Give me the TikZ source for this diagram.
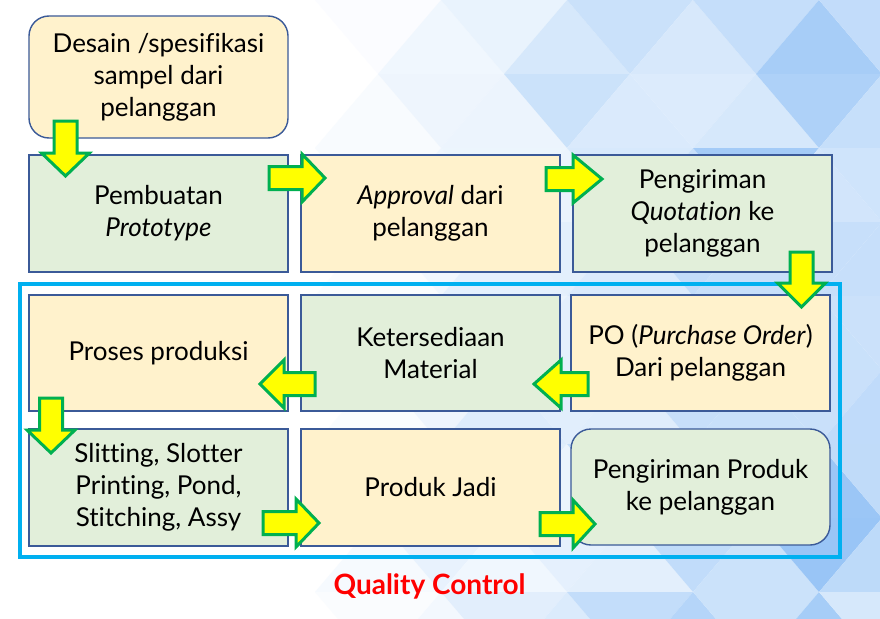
\documentclass[tikz,border=0pt]{standalone}
\usepackage{fontspec}
\setmainfont[Ligatures=NoCommon]{Lato}
\usetikzlibrary{positioning}
\definecolor{grnfill}{HTML}{E2EFDA}
\definecolor{orgfill}{HTML}{FFF2CC}
\definecolor{boxline}{HTML}{3B5A98}
\definecolor{qcblue}{HTML}{00B0F0}
\definecolor{arrgreen}{HTML}{00B050}
\definecolor{arryellow}{HTML}{FFFF00}
\definecolor{bgdark}{RGB}{140,190,245}
\definecolor{qcred}{HTML}{FF0000}
\tikzset{
  procbox/.style={draw=boxline, line width=1.4pt, minimum width=259pt, inner sep=2pt, align=center,
    font=\fontsize{26}{32}\selectfont},
  grnbox/.style={procbox, fill=grnfill},
  orgbox/.style={procbox, fill=orgfill},
  blockarr/.style={fill=arryellow, draw=arrgreen, line width=3pt, line join=miter},
  qcframe/.style={draw=qcblue, line width=4.5pt, minimum width=820pt, minimum height=273pt, inner sep=0pt}
}
\newcommand\harr[4]{% tail x, head base x, tip x, centre y
  \filldraw[blockarr] ({#1},{#4-11.5}) -- ({#2},{#4-11.5}) -- ({#2},{#4-24}) -- ({#3},{#4})
    -- ({#2},{#4+24}) -- ({#2},{#4+11.5}) -- ({#1},{#4+11.5}) -- cycle;}
\newcommand\varr[4]{% tail y, head base y, tip y, centre x
  \filldraw[blockarr] ({#4-11.5},{#1}) -- ({#4-11.5},{#2}) -- ({#4-24},{#2}) -- ({#4},{#3})
    -- ({#4+24},{#2}) -- ({#4+11.5},{#2}) -- ({#4+11.5},{#1}) -- cycle;}
\begin{document}
\begin{tikzpicture}[x=1pt,y=-1pt]
\useasboundingbox (0,0) rectangle (880,618);
\fill[white] (0,0) rectangle (880,618);
% background triangle pattern
\begin{scope}
\clip (0,0) rectangle (880,618);
\pgfmathsetseed{11}
\foreach \r in {0,...,8} {
  \pgfmathsetmacro{\ya}{\r*74}
  \pgfmathsetmacro{\yb}{(\r+1)*74}
  \pgfmathsetmacro{\off}{mod(\r,2)*63-63}
  \foreach \m in {0,...,8} {
    \pgfmathsetmacro{\xa}{\m*126+\off}
    \pgfmathsetmacro{\opa}{min(1,max(0,(\xa+63-340)/460))}
    \pgfmathsetmacro{\opb}{min(1,max(0,(\xa+126-340)/460))}
    \pgfmathsetmacro{\ta}{(35+60*rnd)*\opa}
    \pgfmathsetmacro{\tb}{(35+60*rnd)*\opb}
    \fill[bgdark!\ta!white] (\xa,\ya) -- (\xa+126,\ya) -- (\xa+63,\yb) -- cycle;
    \fill[bgdark!\tb!white] (\xa+63,\yb) -- (\xa+189,\yb) -- (\xa+126,\ya) -- cycle;
  }
}
\end{scope}
% quality control frame
\node[qcframe] (qc) at (430,420.5) {};
% process boxes
\node[orgbox, minimum height=122pt, rounded corners=20pt] (desain) at (158.5,77) {Desain /spesifikasi\\sampel dari\\pelanggan};
\node[grnbox, minimum height=117pt] (proto) at (158.5,213.5) {Pembuatan\\\textit{Prototype}};
\node[orgbox, minimum height=117pt] (appr) at (430.5,213.5) {\textit{Approval} dari\\pelanggan};
\node[grnbox, minimum height=117pt] (quot) at (702.5,213.5) {Pengiriman\\\textit{Quotation} ke\\pelanggan};
\node[orgbox, minimum height=116pt] (prod) at (158.5,353) {Proses produksi};
\node[grnbox, minimum height=116pt] (mat) at (430.5,353) {Ketersediaan\\Material};
\node[orgbox, minimum height=116pt] (po) at (700.5,353) {PO (\textit{Purchase Order})\\Dari pelanggan};
\node[grnbox, minimum height=117pt] (slit) at (158.5,487.5) {Slitting, Slotter\\Printing, Pond,\\Stitching, Assy};
\node[orgbox, minimum height=117pt] (jadi) at (430.5,487.5) {Produk Jadi};
\node[grnbox, minimum height=116pt, rounded corners=20pt] (kirim) at (700.5,487) {Pengiriman Produk\\ke pelanggan};
% label
\node[font=\fontsize{28}{32}\selectfont\bfseries, text=qcred] (qclabel) at (429.5,586) {Quality Control};
% block arrows
\varr{121}{153}{176}{65.5}
\harr{269}{302}{325}{178}
\harr{546}{573}{602}{179}
\varr{252}{283}{307}{801.5}
\harr{588}{561}{534}{384}
\harr{315}{284}{260}{384}
\varr{398}{430}{453}{51}
\harr{263}{296}{319}{523}
\harr{540}{573}{595}{524}
\end{tikzpicture}
\end{document}
